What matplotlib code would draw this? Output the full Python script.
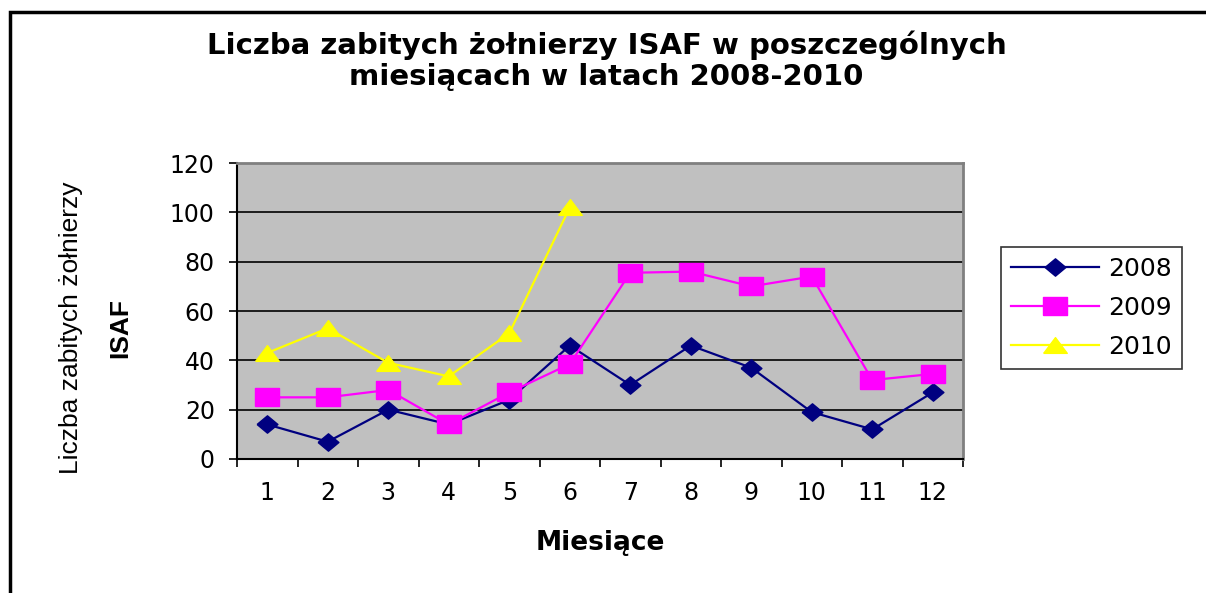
import matplotlib.pyplot as plt
import matplotlib.patches as mpatches

months = [1, 2, 3, 4, 5, 6, 7, 8, 9, 10, 11, 12]
deaths_2008 = [14, 7, 20, 14, 24, 46, 30, 46, 37, 19, 12, 27]
deaths_2009 = [25, 25, 28, 14, 27, 38.5, 75.5, 76, 70, 74, 32, 34.5]
deaths_2010 = [43, 53, 39, 33.5, 51, 102]
yticks = [0, 20, 40, 60, 80, 100, 120]

plt.rcParams['font.family'] = ['DejaVu Sans']

# Excel-like markers, a bit wider than tall
diamond = [(-9, 0), (0, 7.5), (9, 0), (0, -7.5), (-9, 0)]
rect = [(-12, -8.5), (12, -8.5), (12, 8.5), (-12, 8.5), (-12, -8.5)]
tri = [(-10.5, -7), (10.5, -7), (0, 7), (-10.5, -7)]

fig = plt.figure(figsize=(12.06, 5.93), dpi=100)
ax = fig.add_axes([237 / 1206, 0.226, 726 / 1206, 0.499])

# outer chart frame
fig.patches.append(mpatches.Rectangle((10 / 1206, -0.1), 1.2, 1 - 12 / 593 + 0.1,
                                      transform=fig.transFigure, fill=False,
                                      edgecolor='black', linewidth=2.5))

ax.set_facecolor('#C0C0C0')
ax.plot(months, deaths_2008, color='#000080', marker=diamond, markersize=15, linewidth=1.6, label='2008')
ax.plot(months, deaths_2009, color='#FF00FF', marker=rect, markersize=18, linewidth=1.6, label='2009')
ax.plot(months[:len(deaths_2010)], deaths_2010, color='#FFFF00', marker=tri, markersize=17,
        linewidth=1.6, label='2010')

ax.set_xlim(0.5, 12.5)
ax.set_ylim(0, 120)
ax.set_yticks(yticks)
ax.set_yticklabels([str(v) for v in yticks], fontsize=17)
ax.yaxis.grid(True, color='black', linewidth=1.2)
ax.set_axisbelow(True)

# ticks on category edges, labels at centers
ax.set_xticks([m - 0.5 for m in months] + [12.5])
ax.set_xticklabels([])
ax.set_xticks(months, minor=True)
ax.set_xticklabels([str(m) for m in months], minor=True, fontsize=17)
ax.tick_params(axis='x', which='minor', length=0, pad=16)
ax.tick_params(axis='x', which='major', length=6, width=1.2, direction='out')
ax.tick_params(axis='y', length=6, width=1.2, pad=10)

for side in ['top', 'right']:
    ax.spines[side].set_color('#808080')
    ax.spines[side].set_linewidth(2)
for side in ['left', 'bottom']:
    ax.spines[side].set_linewidth(1.5)

ax.set_xlabel('Miesiące', fontsize=19, fontweight='bold', va='center')
ax.xaxis.set_label_coords(0.5, -0.284)
ax.set_ylabel('Liczba zabitych żołnierzy', fontsize=19,
              family=['Liberation Sans', 'DejaVu Sans'], va='center')
ax.yaxis.set_label_coords(-0.229, 0.444)
ax.text(-0.161, 0.444, 'ISAF', transform=ax.transAxes, rotation=90, ha='center', va='center',
        fontsize=19, fontweight='bold', family=['Liberation Sans', 'DejaVu Sans'])

fig.text(0.503, 0.897, 'Liczba zabitych żołnierzy ISAF w poszczególnych\nmiesiącach w latach 2008-2010',
         ha='center', va='center', fontsize=21, fontweight='bold', linespacing=1.15)

leg = fig.legend(loc='upper left', bbox_to_anchor=(1001 / 1206, 1 - 247 / 593), fontsize=18,
                 frameon=True, fancybox=False, edgecolor='black', handlelength=3.5,
                 borderpad=0.4, labelspacing=0.6, handletextpad=0.4, borderaxespad=0)
leg.get_frame().set_linewidth(1.2)

fig.savefig('out.png', dpi=100)
